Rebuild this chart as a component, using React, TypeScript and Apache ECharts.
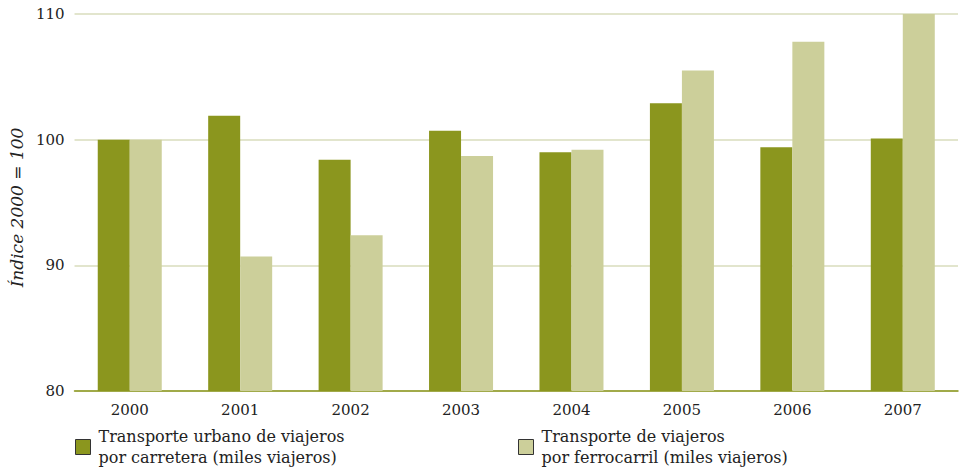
import React, { useEffect, useRef } from "react";
import * as echarts from "echarts";

const years = ["2000", "2001", "2002", "2003", "2004", "2005", "2006", "2007"];
const carretera = [100, 101.9, 98.4, 100.7, 99.0, 102.9, 99.4, 100.1];
const ferrocarril = [100, 90.7, 92.4, 98.7, 99.2, 105.5, 107.8, 110.15];
const seriesNames = [
  "Transporte urbano de viajeros\npor carretera (miles viajeros)",
  "Transporte de viajeros\npor ferrocarril (miles viajeros)",
];
const yTitle = "Índice 2000 = 100";

const FONT = "'DejaVu Serif', 'Liberation Serif', serif";

export default function App() {
  const ref = useRef<HTMLDivElement>(null);
  useEffect(() => {
    if (!ref.current) return;
    const chart = echarts.init(ref.current, undefined, { renderer: "svg" });
    const legendText = {
      fontFamily: FONT,
      fontSize: 16,
      color: "#222",
      lineHeight: 21,
      padding: [0, 0, 0, 3],
    };
    chart.setOption({
      animation: false,
      textStyle: { fontFamily: FONT },
      grid: { left: 73, right: 4, top: 14, bottom: 77 },
      legend: [
        {
          data: [{ name: seriesNames[0], itemStyle: { borderColor: "#333", borderWidth: 1 } }],
          left: 70,
          top: 421,
          itemWidth: 15,
          itemHeight: 15,
          icon: "rect",
          textStyle: legendText,
          selectedMode: false,
        },
        {
          data: [{ name: seriesNames[1], itemStyle: { borderColor: "#333", borderWidth: 1 } }],
          left: 513,
          top: 421,
          itemWidth: 15,
          itemHeight: 15,
          icon: "rect",
          textStyle: legendText,
          selectedMode: false,
        },
      ],
      xAxis: {
        type: "category",
        data: years,
        axisLine: { lineStyle: { color: "#8b961e", width: 1.5 } },
        axisTick: { show: false },
        axisLabel: { fontFamily: FONT, fontSize: 15, color: "#222", margin: 11 },
      },
      yAxis: {
        type: "value",
        min: 80,
        max: 110,
        interval: 10,
        name: yTitle,
        nameLocation: "middle",
        nameGap: 49,
        nameTextStyle: {
          fontFamily: FONT,
          fontSize: 17,
          fontStyle: "italic",
          color: "#222",
          padding: [0, 10, 0, 0],
        },
        axisLine: { show: false },
        axisTick: { show: false },
        axisLabel: { fontFamily: FONT, fontSize: 15, color: "#222", margin: 10 },
        splitLine: { lineStyle: { color: "#d9dcbc", width: 1.5 } },
      },
      series: [
        {
          name: seriesNames[0],
          type: "bar",
          data: carretera,
          barWidth: 32,
          barGap: "0%",
          itemStyle: { color: "#8b961e" },
        },
        {
          name: seriesNames[1],
          type: "bar",
          data: ferrocarril,
          barWidth: 32,
          barGap: "0%",
          itemStyle: { color: "#cccf9a" },
        },
      ],
    });
    return () => chart.dispose();
  }, []);
  return <div ref={ref} style={{ width: 962, height: 468, position: "absolute", left: 0, top: 0 }} />;
}
